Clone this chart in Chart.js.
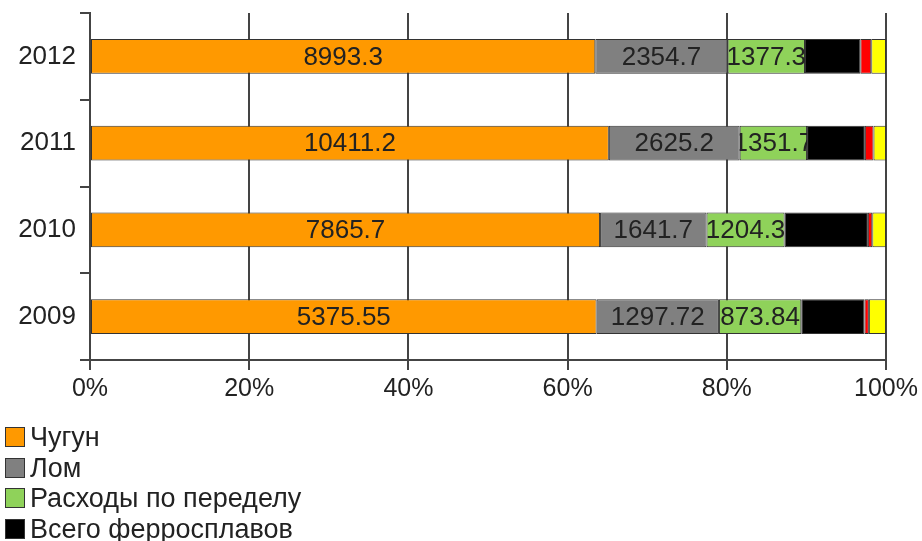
<!DOCTYPE html>
<html>
<head>
<meta charset="utf-8">
<script src="https://cdn.jsdelivr.net/npm/chart.js@4"></script>
<style>
  html, body { margin: 0; padding: 0; background: #fff; overflow: hidden; }
  #wrap { position: relative; width: 922px; height: 541px; overflow: hidden; }
  #legend { position: absolute; left: 5px; top: 422px; font-family: "Liberation Sans", Arial, sans-serif; font-size: 27px; color: #222; }
  .item { height: 30.5px; line-height: 30.5px; display: flex; align-items: center; white-space: nowrap; }
  .box { width: 18px; height: 18px; border: 1.5px solid #333; margin-right: 5px; box-sizing: content-box; }
</style>
</head>
<body>
<div id="wrap">
  <canvas id="c" width="922" height="541"></canvas>
  <div id="legend"></div>
</div>
<script>
// Cost structure by year, absolute values (shown as share of the yearly total)
const years = ['2012', '2011', '2010', '2009'];
const chugun = [8993.3, 10411.2, 7865.7, 5375.55];
const lom = [2354.7, 2625.2, 1641.7, 1297.72];
const raskhody = [1377.3, 1351.7, 1204.3, 873.84];
const ferrosplavy = [985, 1160, 1284, 671];
const raskisliteli = [194, 174, 68, 46];
const prochie = [263, 251, 212, 182];
const xTicks = [0, 20, 40, 60, 80, 100];

const seriesNames = ['Чугун', 'Лом', 'Расходы по переделу', 'Всего ферросплавов', 'Раскислители', 'Прочие'];
const seriesColors = ['#FF9900', '#808080', '#8FD25A', '#000000', '#FF0000', '#FFFF00'];
const seriesValues = [chugun, lom, raskhody, ferrosplavy, raskisliteli, prochie];
const labelledSeries = 3; // value labels on the first three series

const totals = years.map((_, i) => seriesValues.reduce((s, arr) => s + arr[i], 0));

const datasets = seriesValues.map((vals, k) => ({
  label: seriesNames[k],
  data: vals.map((v, i) => v / totals[i] * 100),
  raw: vals,
  backgroundColor: seriesColors[k],
  borderColor: '#333333',
  borderWidth: 1,
  borderSkipped: false,
  categoryPercentage: 1,
  barPercentage: 0.4
}));

const FONT = '"Liberation Sans", Arial, sans-serif';

// Value labels centred in each segment, clipped to the segment
const valueLabels = {
  id: 'valueLabels',
  afterDatasetsDraw(chart) {
    const ctx = chart.ctx;
    ctx.save();
    ctx.font = '26px ' + FONT;
    ctx.fillStyle = '#222';
    ctx.textAlign = 'center';
    ctx.textBaseline = 'middle';
    for (let k = 0; k < labelledSeries; k++) {
      const meta = chart.getDatasetMeta(k);
      meta.data.forEach((bar, i) => {
        const left = Math.min(bar.x, bar.base);
        const right = Math.max(bar.x, bar.base);
        const h = bar.height;
        ctx.save();
        ctx.beginPath();
        ctx.rect(left, bar.y - h / 2, right - left, h);
        ctx.clip();
        ctx.fillText(String(chart.data.datasets[k].raw[i]), (left + right) / 2, bar.y + 1);
        ctx.restore();
      });
    }
    ctx.restore();
  }
};

const chart = new Chart(document.getElementById('c'), {
  type: 'bar',
  data: { labels: years, datasets },
  options: {
    indexAxis: 'y',
    responsive: false,
    animation: false,
    devicePixelRatio: 1,
    layout: { padding: { left: 0, right: 35, top: 13, bottom: 131 } },
    plugins: { legend: { display: false }, tooltip: { enabled: false } },
    scales: {
      x: {
        stacked: true,
        min: 0,
        max: 100,
        afterBuildTicks(scale) { scale.ticks = xTicks.map(v => ({ value: v })); },
        afterFit(scale) { scale.height = 50; },
        ticks: {
          callback: v => v + '%',
          color: '#222',
          font: { family: FONT, size: 25 },
          padding: 4,
          maxRotation: 0
        },
        grid: { color: '#444', lineWidth: 2, tickLength: 10, drawTicks: true },
        border: { display: true, color: '#444', width: 2 }
      },
      y: {
        stacked: true,
        afterFit(scale) {
          scale.width = 90;
          scale.paddingTop = 0;
          scale.paddingBottom = 0;
        },
        ticks: {
          color: '#222',
          font: { family: FONT, size: 26 },
          padding: 4
        },
        grid: { offset: true, drawOnChartArea: false, color: '#444', lineWidth: 2, tickLength: 10 },
        border: { display: true, color: '#444', width: 2 }
      }
    }
  },
  plugins: [valueLabels]
});

// Legend listed one entry per row below the chart
const legendEl = document.getElementById('legend');
chart.data.datasets.forEach(ds => {
  const row = document.createElement('div');
  row.className = 'item';
  const box = document.createElement('span');
  box.className = 'box';
  box.style.background = ds.backgroundColor;
  const txt = document.createElement('span');
  txt.textContent = ds.label;
  row.appendChild(box);
  row.appendChild(txt);
  legendEl.appendChild(row);
});
</script>
</body>
</html>
